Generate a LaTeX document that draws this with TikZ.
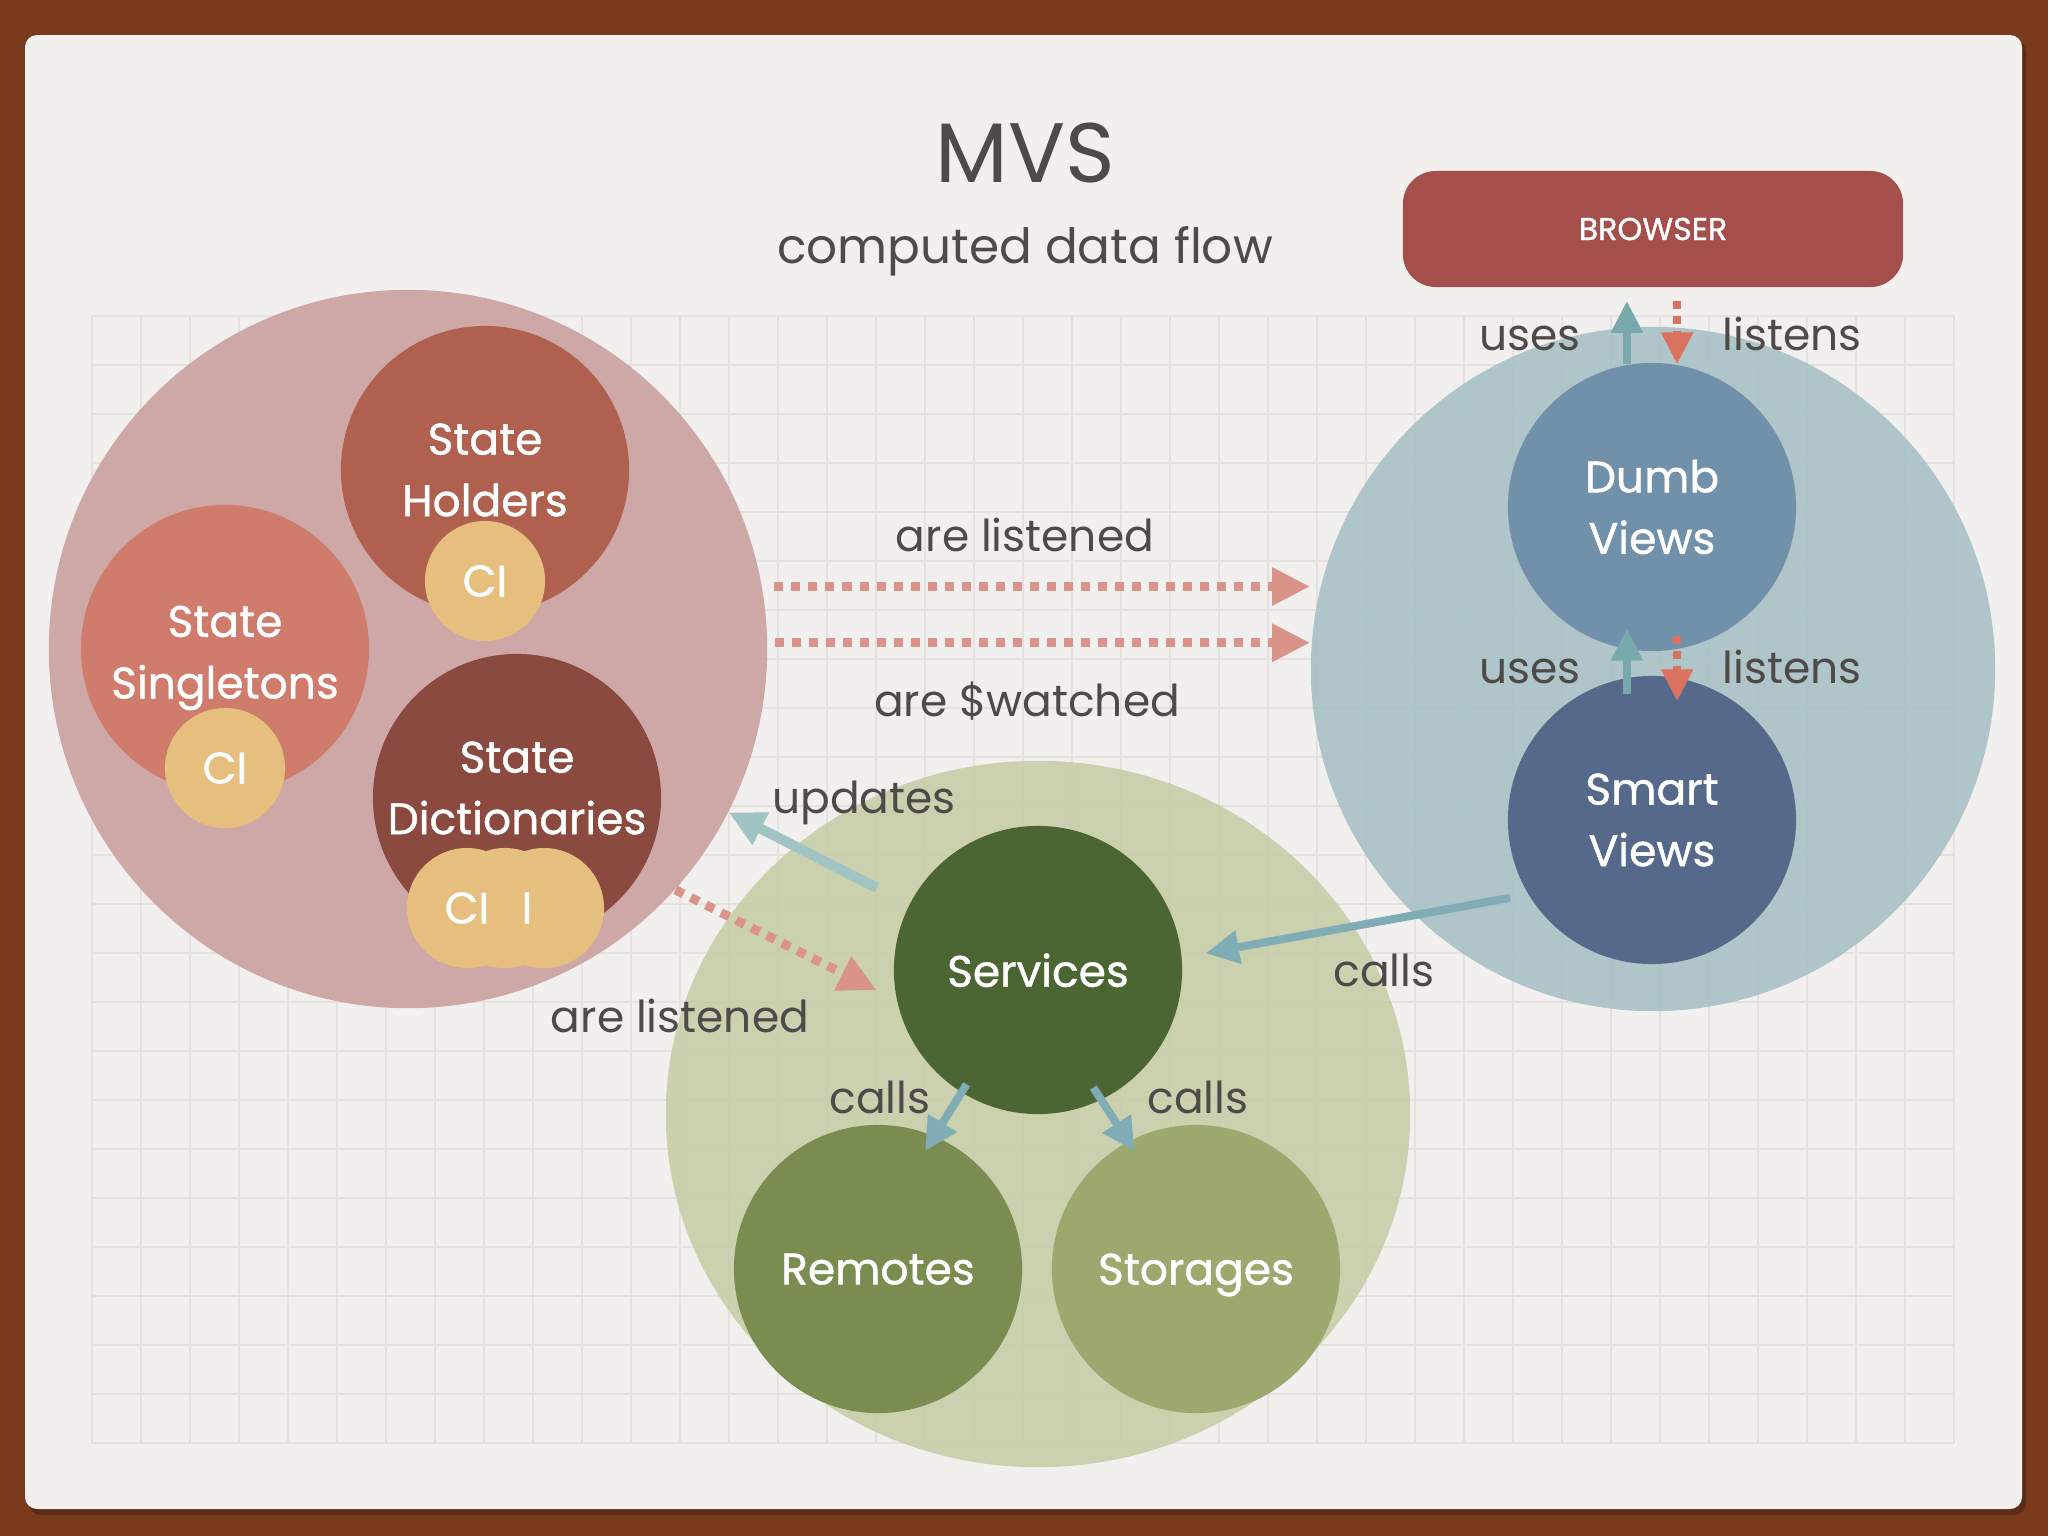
\documentclass[tikz,border=0pt]{standalone}
\usepackage{fontspec}
\setmainfont{Poppins}
\newfontfamily\bubblefont{Poppins}[FakeBold=1]
\usetikzlibrary{arrows.meta, shapes.geometric}

\definecolor{framebrown}{HTML}{7A3A1C}
\definecolor{paper}{HTML}{F2F0EF}
\definecolor{gridgray}{HTML}{E4E1DF}
\definecolor{textgray}{HTML}{4E4A49}
\definecolor{statebg}{HTML}{C99F9C}
\definecolor{holderred}{HTML}{B0604F}
\definecolor{singletonred}{HTML}{D07C6C}
\definecolor{dictred}{HTML}{8A4A3F}
\definecolor{ciyellow}{HTML}{E6BF7F}
\definecolor{viewbg}{HTML}{A6C0C4}
\definecolor{dumbblue}{HTML}{7190AA}
\definecolor{smartblue}{HTML}{56698A}
\definecolor{servicebg}{HTML}{C6CCA6}
\definecolor{servicegreen}{HTML}{4B6632}
\definecolor{remotegreen}{HTML}{7A8C50}
\definecolor{storagegreen}{HTML}{9BA96F}
\definecolor{browserred}{HTML}{A44F4B}
\definecolor{useteal}{HTML}{79A9AA}
\definecolor{updteal}{HTML}{A0C3C3}
\definecolor{callteal}{HTML}{7FACB5}
\definecolor{listenpink}{HTML}{DA9389}
\definecolor{listenred}{HTML}{D9735F}

\begin{document}
\begin{tikzpicture}[x=0.01cm, y=-0.01cm]
	\tikzset{
		area/.style={circle, inner sep=0pt, fill opacity=0.88},
		bubble/.style={circle, minimum size=2.88cm, inner sep=0pt, text=white, align=center, font=\bubblefont\fontsize{12.5}{17.5}\selectfont},
		onebubble/.style={bubble, text depth=0pt},
		bubbletext/.style={inner sep=0pt, text=white, align=center, font=\bubblefont\fontsize{12.5}{17.5}\selectfont},
		cibubble/.style={circle, minimum size=1.2cm, inner sep=0pt, fill=ciyellow, text=white, font=\bubblefont\fontsize{12.5}{15}\selectfont},
		citext/.style={text=white, inner sep=0pt, font=\bubblefont\fontsize{12.5}{15}\selectfont},
		lbl/.style={anchor=base, text=textgray, font=\fontsize{12.5}{15}\selectfont},
		uses/.style={draw=useteal, line width=0.08cm, -{Triangle[length=0.32cm, width=0.3cm]}},
		listens/.style={draw=listenred, line width=0.08cm, dash pattern=on 0.08cm off 0.07cm, -{Triangle[length=0.32cm, width=0.3cm]}},
		watch/.style={draw=listenpink, line width=0.09cm, dash pattern=on 0.09cm off 0.08cm, -{Triangle[length=0.38cm, width=0.36cm]}},
		updates/.style={draw=updteal, line width=0.1cm, -{Triangle[length=0.36cm, width=0.34cm]}},
		calls/.style={draw=callteal, line width=0.08cm, -{Triangle[length=0.33cm, width=0.32cm]}}
	}
	\useasboundingbox (0,0) rectangle (2048,1536);

	% paper and grid
	\fill[framebrown] (0,0) rectangle (2048,1536);
	\fill[black, opacity=0.25, rounded corners=0.12cm] (29,40) rectangle (2026,1515);
	\fill[paper, rounded corners=0.12cm] (25,35) rectangle (2022,1509);
	\foreach \gx in {0,...,38}
		\draw[gridgray, line width=0.018cm] (92+\gx*49,316) -- (92+\gx*49,1443);
	\foreach \gy in {0,...,23}
		\draw[gridgray, line width=0.018cm] (92,316+\gy*49) -- (1954,316+\gy*49);

	\node[anchor=base, text=textgray, font=\fontsize{24}{28}\selectfont] (title) at (1025,182) {MVS};
	\node[anchor=base, text=textgray, font=\fontsize{13.8}{17}\selectfont] (subtitle) at (1025,263) {computed data flow};

	\node[fill=browserred, rounded corners=0.33cm, minimum width=5cm, minimum height=1.16cm, text=white, font=\bubblefont\fontsize{9}{11}\selectfont] (browser) at (1653,229) {BROWSER};

	% big areas
	\node[area, fill=statebg, minimum size=7.18cm] (state) at (408,649) {};
	\node[area, fill=viewbg, minimum size=6.84cm] (views) at (1653,669) {};
	\node[area, ellipse, fill=servicebg, minimum width=7.44cm, minimum height=7.06cm] (service) at (1038,1114) {};

	\node[bubble, fill=holderred] (holders) at (485,470) {State\\Holders};
	\node[bubble, fill=singletonred] (singletons) at (225,649) {};
	\node[bubbletext] at (225,658) {State\\Singletons};
	\node[bubble, fill=dictred] (dicts) at (517,798) {};
	\node[bubbletext] at (517,788) {State\\Dictionaries};

	\node[cibubble] (holdersci) at (485,581) {CI};
	\node[cibubble] (singletonsci) at (225,768) {CI};
	\node[cibubble] (dictsci1) at (467,908) {};
	\node[cibubble] (dictsci2) at (505,908) {};
	\node[cibubble] (dictsci3) at (544,908) {};
	\node[citext] (dictscitext1) at (dictsci1) {CI};
	\node[citext] (dictscitext2) at (527,908) {I};

	\node[bubble, fill=dumbblue] (dumb) at (1652,507) {Dumb\\Views};
	\node[bubble, fill=smartblue] (smart) at (1652,820) {Smart\\Views};

	\node[onebubble, fill=servicegreen] (services) at (1038,970) {Services};
	\node[onebubble, fill=remotegreen] (remotes) at (878,1269) {Remotes};
	\node[onebubble, fill=storagegreen] (storages) at (1196,1269) {Storages};

	% labels
	\node[lbl] (usestop) at (1530,350) {uses};
	\node[lbl] (listenstop) at (1792,350) {listens};
	\node[lbl] (usesmid) at (1530,683) {uses};
	\node[lbl] (listensmid) at (1792,683) {listens};
	\node[lbl] (arelistened) at (1025,551) {are listened};
	\node[lbl] (arewatched) at (1027,716) {are \$watched};
	\node[lbl] (updateslbl) at (864,813) {updates};
	\node[lbl] (arelistenedlow) at (680,1032) {are listened};
	\node[lbl] (callsviews) at (1384,986) {calls};
	\node[lbl] (callsremotes) at (880,1113) {calls};
	\node[lbl] (callsstorages) at (1198,1113) {calls};

	% connectors
	\draw[uses, shorten >=0.13cm] (dumb.100) to (dumb.100 |- browser.south);
	\draw[listens, shorten <=0.13cm] (browser.south -| dumb.80) to (dumb.80);
	\draw[uses, shorten <=-0.17cm, shorten >=-0.21cm] (smart.100) to (dumb.-100);
	\draw[listens, shorten <=-0.14cm, shorten >=-0.24cm] (dumb.-80) to (smart.80);

	\draw[watch, shorten <=0.12cm] (state.10) to (views.west |- state.10);
	\draw[watch, shorten <=0.07cm] (state.1) to (views.west |- state.1);

	\draw[updates, shorten <=0.36cm] (services) to (state);
	\draw[watch, shorten >=0.22cm] (state.-42) to (services.192);

	\draw[calls, shorten <=0.18cm, shorten >=0.24cm] (smart.211) to (services.5);
	\draw[calls, shorten <=-0.1cm, shorten >=-0.18cm] (services.238) to (remotes.67);
	\draw[calls, shorten <=-0.15cm, shorten >=-0.12cm] (services.-64) to (storages.118);
\end{tikzpicture}
\end{document}
